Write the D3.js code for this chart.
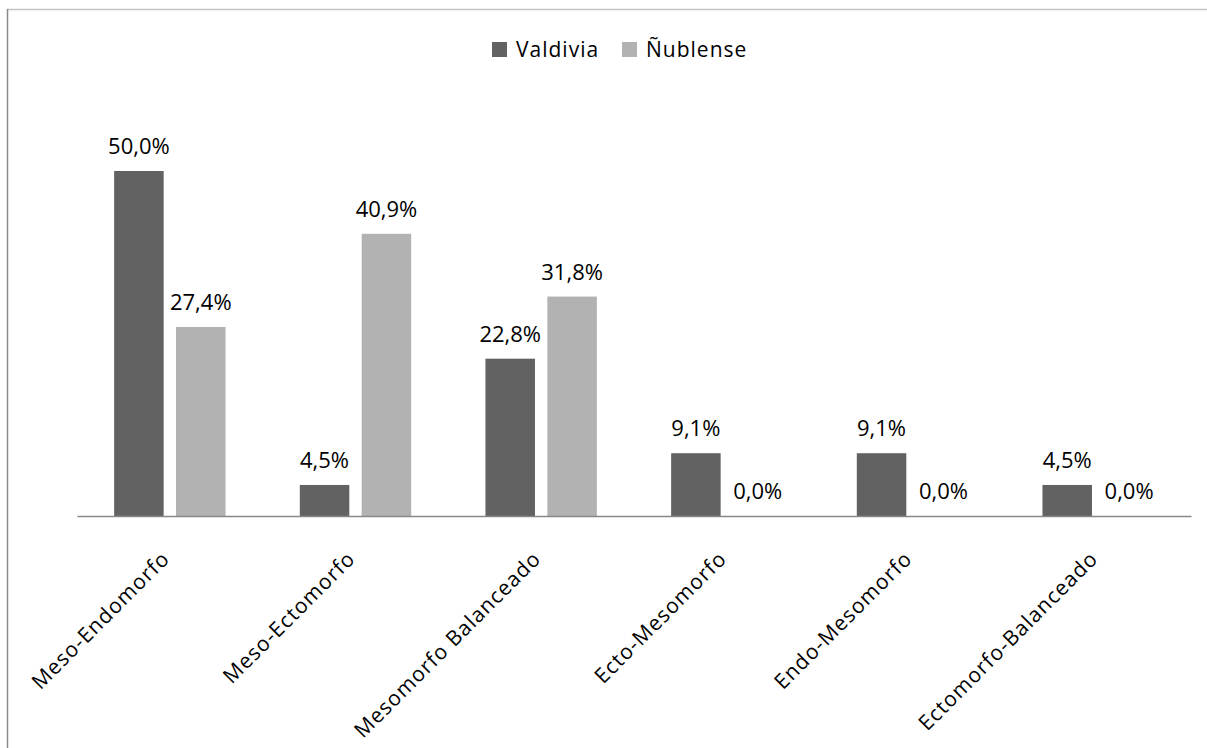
<!DOCTYPE html>
<html>
<head>
<meta charset="utf-8">
<script src="https://cdn.jsdelivr.net/npm/d3@7"></script>
<style>
  body { margin: 0; background: #fff; }
  text { font-family: "Open Sans", sans-serif; fill: #000; }
</style>
</head>
<body>
<svg id="chart"></svg>
<script>
const categories = ["Meso-Endomorfo", "Meso-Ectomorfo", "Mesomorfo Balanceado", "Ecto-Mesomorfo", "Endo-Mesomorfo", "Ectomorfo-Balanceado"];
const seriesNames = ["Valdivia", "Ñublense"];
const valdivia = [50.0, 4.5, 22.8, 9.1, 9.1, 4.5];
const nublense = [27.4, 40.9, 31.8, 0.0, 0.0, 0.0];
const colors = ["#626262", "#b2b2b2"];

const w = 1207, h = 748;
const plotLeft = 77, plotRight = 1191, baseline = 516, plotTop = 102;

const svg = d3.select("#chart").attr("width", w).attr("height", h);

// frame lines
svg.append("line").attr("x1", 7).attr("x2", w).attr("y1", 9.5).attr("y2", 9.5)
  .attr("stroke", "#c4c4c4").attr("stroke-width", 1.5);
svg.append("line").attr("x1", 7.5).attr("x2", 7.5).attr("y1", 9).attr("y2", h)
  .attr("stroke", "#8a8a8a").attr("stroke-width", 1.5);

const x0 = d3.scaleBand().domain(categories).range([plotLeft, plotRight]).paddingInner(0.4).paddingOuter(0.2);
const x1 = d3.scaleBand().domain(seriesNames).range([0, x0.bandwidth()]).paddingInner(0.2);
const y = d3.scaleLinear().domain([0, 60]).range([baseline, plotTop]);

const rows = categories.map((c, i) => ({ cat: c, vals: [valdivia[i], nublense[i]] }));

const g = svg.selectAll("g.grp").data(rows).enter().append("g")
  .attr("class", "grp")
  .attr("transform", d => `translate(${x0(d.cat)},0)`);

g.selectAll("rect").data(d => d.vals).enter().append("rect")
  .attr("x", (d, i) => x1(seriesNames[i]))
  .attr("y", d => y(d))
  .attr("width", x1.bandwidth())
  .attr("height", d => baseline - y(d))
  .attr("fill", (d, i) => colors[i]);

g.selectAll("text.val").data(d => d.vals).enter().append("text")
  .attr("class", "val")
  .attr("x", (d, i) => x1(seriesNames[i]) + x1.bandwidth() / 2)
  .attr("y", d => y(d) - 17)
  .attr("text-anchor", "middle")
  .attr("font-size", 22)
  .text(d => d.toFixed(1).replace(".", ",") + "%");

// x axis
const xAxis = d3.axisBottom(x0).tickSize(0).tickPadding(0);
const ax = svg.append("g").attr("transform", `translate(0,${baseline})`).call(xAxis);
ax.select(".domain").attr("stroke", "#888").attr("stroke-width", 1.5);
ax.selectAll(".tick text")
  .attr("font-family", "Open Sans, sans-serif")
  .attr("font-size", 21)
  .attr("letter-spacing", 1)
  .attr("fill", "#000")
  .attr("text-anchor", "end")
  .attr("dy", 0)
  .attr("transform", "translate(1,44) rotate(-45)");

// legend
const legend = svg.append("g").attr("transform", "translate(492,0)");
const lx = [0, 130];
seriesNames.forEach((s, i) => {
  legend.append("rect").attr("x", lx[i]).attr("y", 42).attr("width", 15).attr("height", 15).attr("fill", colors[i]);
  legend.append("text").attr("x", lx[i] + 24).attr("y", 57)
    .attr("font-size", 21).attr("letter-spacing", 1).text(s);
});
</script>
</body>
</html>
